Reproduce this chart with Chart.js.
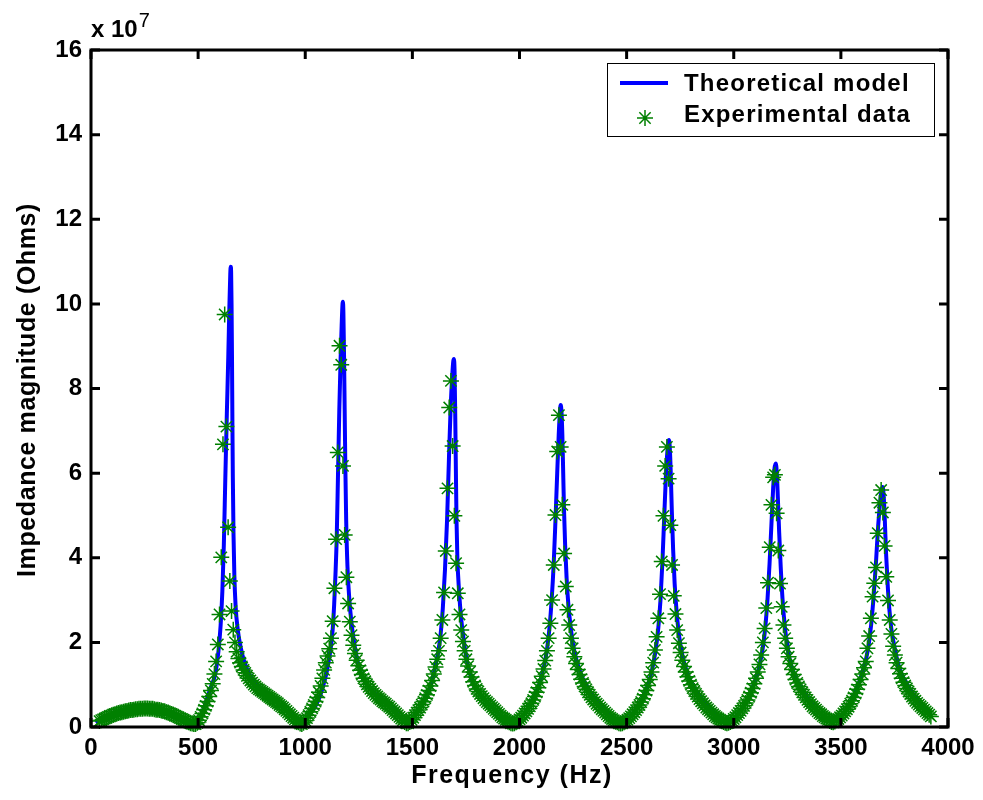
<!DOCTYPE html>
<html>
<head>
<meta charset="utf-8">
<title>Impedance magnitude</title>
<script src="https://cdn.jsdelivr.net/npm/chart.js@4.4.1/dist/chart.umd.min.js"></script>
<style>
	html, body { margin: 0; padding: 0; background: #fff; }
	#chart-place { width: 983px; height: 800px; }
</style>
</head>
<body>
<div id="chart-place"><canvas id="myChart" width="983" height="800"></canvas></div>
<script>
// values are in units of 10^7 Ohms (see the "x 10^7" label)

// theoretical model, frequency (Hz)
var theoryFreq = [
	20, 50, 100, 150, 200, 250, 300, 350, 400, 440, 470, 490,
	505, 525, 545, 560, 580, 595, 605, 613, 620, 627, 634, 641, 646, 650, 652, 654, 656, 658, 660, 662, 665, 669, 675, 685, 700, 715, 730, 750, 775, 800, 850, 900, 930, 955, 975, 985,
	995, 1020, 1050, 1070, 1085, 1100, 1110, 1120, 1128, 1135, 1141, 1147, 1153, 1159, 1165, 1170, 1174, 1176, 1178, 1181, 1184, 1187, 1191, 1197, 1206, 1215, 1225, 1240, 1256, 1280, 1318, 1360, 1396, 1420, 1442, 1462, 1476,
	1490, 1520, 1545, 1567, 1585, 1598, 1612, 1622, 1632, 1642, 1652, 1662, 1671, 1679, 1686, 1691, 1694, 1697, 1700, 1703, 1706, 1710, 1718, 1728, 1740, 1753, 1770, 1784, 1805, 1831, 1860, 1894, 1920, 1940, 1960, 1972,
	1985, 2018, 2040, 2064, 2080, 2096, 2110, 2119, 2130, 2140, 2150, 2160, 2168, 2176, 2183, 2188, 2192, 2196, 2200, 2204, 2208, 2213, 2220, 2228, 2238, 2250, 2265, 2285, 2310, 2340, 2380, 2420, 2450, 2470,
	2485, 2510, 2540, 2570, 2600, 2620, 2635, 2648, 2658, 2667, 2675, 2683, 2690, 2695, 2698, 2702, 2706, 2711, 2717, 2724, 2733, 2745, 2760, 2780, 2805, 2840, 2880, 2920, 2950, 2968,
	2985, 3010, 3040, 3070, 3100, 3120, 3135, 3148, 3158, 3167, 3176, 3184, 3190, 3196, 3201, 3206, 3212, 3219, 3228, 3240, 3250, 3262, 3278, 3294, 3315, 3340, 3365, 3387, 3410, 3434, 3452, 3465,
	3480, 3511, 3535, 3558, 3575, 3589, 3605, 3618, 3630, 3642, 3653, 3664, 3674, 3683, 3690, 3695, 3700, 3705, 3711, 3718, 3726, 3736, 3748, 3760, 3776, 3790, 3807, 3830, 3854, 3880, 3901, 3920
];
// theoretical model, |Z| (x 10^7 Ohms)
var theoryImp = [
	0.12, 0.2, 0.3, 0.37, 0.42, 0.45, 0.44, 0.39, 0.3, 0.2, 0.12, 0.07,
	0.15, 0.42, 0.72, 0.95, 1.25, 1.8, 2.4, 3.2, 4.3, 5.9, 7.4, 8.8, 9.95, 10.7, 10.88, 10.75, 10.0, 8.8, 7.2, 5.9, 4.6, 3.6, 2.85, 2.3, 1.85, 1.55, 1.35, 1.15, 1.0, 0.9, 0.66, 0.45, 0.32, 0.2, 0.1, 0.08,
	0.12, 0.3, 0.52, 0.75, 1.0, 1.3, 1.58, 1.9, 2.3, 2.9, 3.6, 4.5, 6.0, 7.5, 8.7, 9.5, 10.0, 10.05, 9.8, 8.8, 7.5, 6.2, 4.9, 3.8, 3.0, 2.5, 2.1, 1.65, 1.33, 1.05, 0.83, 0.66, 0.52, 0.38, 0.24, 0.14, 0.1,
	0.14, 0.36, 0.55, 0.76, 0.98, 1.23, 1.55, 1.82, 2.2, 2.8, 3.7, 4.9, 6.4, 7.6, 8.3, 8.65, 8.7, 8.4, 7.4, 6.1, 4.9, 4.0, 3.2, 2.55, 2.05, 1.6, 1.25, 1.02, 0.85, 0.68, 0.53, 0.36, 0.24, 0.16, 0.1, 0.08,
	0.12, 0.28, 0.45, 0.68, 0.86, 1.07, 1.35, 1.54, 1.9, 2.35, 3.0, 3.9, 4.9, 6.0, 6.9, 7.4, 7.61, 7.45, 6.9, 6.0, 5.1, 4.3, 3.5, 2.9, 2.4, 1.95, 1.6, 1.28, 1.0, 0.76, 0.5, 0.28, 0.14, 0.08,
	0.12, 0.22, 0.4, 0.65, 1.0, 1.38, 1.8, 2.35, 3.0, 3.9, 4.9, 5.9, 6.5, 6.75, 6.78, 6.55, 6.0, 5.1, 4.2, 3.4, 2.75, 2.15, 1.7, 1.32, 1.02, 0.74, 0.5, 0.3, 0.16, 0.1,
	0.13, 0.25, 0.45, 0.72, 1.1, 1.45, 1.85, 2.4, 3.05, 3.85, 4.8, 5.65, 6.1, 6.23, 6.0, 5.4, 4.6, 3.8, 3.0, 2.3, 1.95, 1.58, 1.3, 1.11, 0.92, 0.72, 0.55, 0.4, 0.29, 0.2, 0.16, 0.15,
	0.18, 0.32, 0.5, 0.72, 0.92, 1.11, 1.38, 1.62, 1.95, 2.45, 3.1, 3.9, 4.75, 5.3, 5.6, 5.67, 5.45, 4.9, 4.1, 3.4, 2.8, 2.3, 1.95, 1.65, 1.35, 1.18, 1.03, 0.84, 0.66, 0.5, 0.4, 0.28
];

// experimental data, frequency (Hz), one row per 80 Hz
var expFreq = [
	40, 48, 56, 64, 72, 80, 88, 96, 104, 112,
	120, 128, 136, 144, 152, 160, 168, 176, 184, 192,
	200, 208, 216, 224, 232, 240, 248, 256, 264, 272,
	280, 288, 296, 304, 312, 320, 328, 336, 344, 352,
	360, 368, 376, 384, 392, 400, 408, 416, 424, 432,
	440, 448, 456, 464, 472, 480, 488, 496, 504, 512,
	520, 528, 536, 544, 552, 560, 568, 576, 584, 592,
	600, 608, 616, 624, 632, 640, 648, 656, 664, 672,
	680, 688, 696, 704, 712, 720, 728, 736, 744, 752,
	760, 768, 776, 784, 792, 800, 808, 816, 824, 832,
	840, 848, 856, 864, 872, 880, 888, 896, 904, 912,
	920, 928, 936, 944, 952, 960, 968, 976, 984, 992,
	1000, 1008, 1016, 1024, 1032, 1040, 1048, 1056, 1064, 1072,
	1080, 1088, 1096, 1104, 1112, 1120, 1128, 1136, 1144, 1152,
	1160, 1168, 1176, 1184, 1192, 1200, 1208, 1216, 1224, 1232,
	1240, 1248, 1256, 1264, 1272, 1280, 1288, 1296, 1304, 1312,
	1320, 1328, 1336, 1344, 1352, 1360, 1368, 1376, 1384, 1392,
	1400, 1408, 1416, 1424, 1432, 1440, 1448, 1456, 1464, 1472,
	1480, 1488, 1496, 1504, 1512, 1520, 1528, 1536, 1544, 1552,
	1560, 1568, 1576, 1584, 1592, 1600, 1608, 1616, 1624, 1632,
	1640, 1648, 1656, 1664, 1672, 1680, 1688, 1696, 1704, 1712,
	1720, 1728, 1736, 1744, 1752, 1760, 1768, 1776, 1784, 1792,
	1800, 1808, 1816, 1824, 1832, 1840, 1848, 1856, 1864, 1872,
	1880, 1888, 1896, 1904, 1912, 1920, 1928, 1936, 1944, 1952,
	1960, 1968, 1976, 1984, 1992, 2000, 2008, 2016, 2024, 2032,
	2040, 2048, 2056, 2064, 2072, 2080, 2088, 2096, 2104, 2112,
	2120, 2128, 2136, 2144, 2152, 2160, 2168, 2176, 2184, 2192,
	2200, 2208, 2216, 2224, 2232, 2240, 2248, 2256, 2264, 2272,
	2280, 2288, 2296, 2304, 2312, 2320, 2328, 2336, 2344, 2352,
	2360, 2368, 2376, 2384, 2392, 2400, 2408, 2416, 2424, 2432,
	2440, 2448, 2456, 2464, 2472, 2480, 2488, 2496, 2504, 2512,
	2520, 2528, 2536, 2544, 2552, 2560, 2568, 2576, 2584, 2592,
	2600, 2608, 2616, 2624, 2632, 2640, 2648, 2656, 2664, 2672,
	2680, 2688, 2696, 2704, 2712, 2720, 2728, 2736, 2744, 2752,
	2760, 2768, 2776, 2784, 2792, 2800, 2808, 2816, 2824, 2832,
	2840, 2848, 2856, 2864, 2872, 2880, 2888, 2896, 2904, 2912,
	2920, 2928, 2936, 2944, 2952, 2960, 2968, 2976, 2984, 2992,
	3000, 3008, 3016, 3024, 3032, 3040, 3048, 3056, 3064, 3072,
	3080, 3088, 3096, 3104, 3112, 3120, 3128, 3136, 3144, 3152,
	3160, 3168, 3176, 3184, 3192, 3200, 3208, 3216, 3224, 3232,
	3240, 3248, 3256, 3264, 3272, 3280, 3288, 3296, 3304, 3312,
	3320, 3328, 3336, 3344, 3352, 3360, 3368, 3376, 3384, 3392,
	3400, 3408, 3416, 3424, 3432, 3440, 3448, 3456, 3464, 3472,
	3480, 3488, 3496, 3504, 3512, 3520, 3528, 3536, 3544, 3552,
	3560, 3568, 3576, 3584, 3592, 3600, 3608, 3616, 3624, 3632,
	3640, 3648, 3656, 3664, 3672, 3680, 3688, 3696, 3704, 3712,
	3720, 3728, 3736, 3744, 3752, 3760, 3768, 3776, 3784, 3792,
	3800, 3808, 3816, 3824, 3832, 3840, 3848, 3856, 3864, 3872,
	3880, 3888, 3896, 3904, 3912, 3920
];
// experimental data, |Z| (x 10^7 Ohms), same rows as expFreq
var expImp = [
	0.14, 0.16, 0.18, 0.2, 0.22, 0.24, 0.26, 0.27, 0.29, 0.3,
	0.32, 0.33, 0.34, 0.35, 0.36, 0.37, 0.38, 0.39, 0.4, 0.4,
	0.41, 0.42, 0.42, 0.43, 0.43, 0.43, 0.44, 0.44, 0.44, 0.43,
	0.43, 0.43, 0.42, 0.41, 0.41, 0.4, 0.39, 0.38, 0.37, 0.35,
	0.34, 0.32, 0.31, 0.29, 0.27, 0.25, 0.23, 0.21, 0.19, 0.17,
	0.15, 0.13, 0.11, 0.09, 0.08, 0.07, 0.07, 0.1, 0.16, 0.24,
	0.32, 0.41, 0.5, 0.6, 0.72, 0.86, 1.02, 1.25, 1.55, 1.95,
	2.66, 4.01, 6.68, 9.75, 7.1, 4.72, 3.45, 2.74, 2.3, 2.0,
	1.78, 1.62, 1.52, 1.43, 1.35, 1.28, 1.21, 1.15, 1.1, 1.05,
	1.0, 0.96, 0.92, 0.89, 0.86, 0.83, 0.8, 0.77, 0.74, 0.71,
	0.68, 0.65, 0.62, 0.59, 0.56, 0.52, 0.49, 0.46, 0.42, 0.38,
	0.34, 0.3, 0.26, 0.22, 0.18, 0.14, 0.11, 0.08, 0.07, 0.1,
	0.15, 0.21, 0.28, 0.36, 0.44, 0.52, 0.6, 0.7, 0.82, 0.97,
	1.15, 1.35, 1.52, 1.68, 1.85, 2.1, 2.5, 3.28, 4.44, 6.49,
	9.01, 8.56, 6.17, 4.54, 3.54, 2.92, 2.49, 2.17, 1.93, 1.74,
	1.58, 1.45, 1.34, 1.24, 1.15, 1.08, 1.01, 0.95, 0.9, 0.85,
	0.8, 0.76, 0.72, 0.68, 0.65, 0.61, 0.58, 0.55, 0.51, 0.48,
	0.44, 0.4, 0.36, 0.32, 0.28, 0.24, 0.2, 0.16, 0.12, 0.09,
	0.09, 0.12, 0.17, 0.22, 0.28, 0.34, 0.4, 0.46, 0.53, 0.6,
	0.68, 0.76, 0.86, 0.97, 1.1, 1.25, 1.42, 1.6, 1.8, 2.1,
	2.53, 3.18, 4.16, 5.64, 7.55, 8.18, 6.64, 4.99, 3.87, 3.16,
	2.66, 2.29, 2.02, 1.8, 1.6, 1.44, 1.3, 1.18, 1.07, 0.98,
	0.9, 0.84, 0.78, 0.73, 0.68, 0.63, 0.59, 0.55, 0.51, 0.47,
	0.43, 0.39, 0.35, 0.31, 0.27, 0.23, 0.2, 0.17, 0.14, 0.11,
	0.09, 0.08, 0.09, 0.11, 0.14, 0.18, 0.22, 0.27, 0.32, 0.37,
	0.43, 0.49, 0.56, 0.64, 0.72, 0.82, 0.93, 1.05, 1.2, 1.37,
	1.57, 1.8, 2.1, 2.45, 3.0, 3.83, 5.01, 6.51, 7.37, 6.62,
	5.25, 4.1, 3.32, 2.77, 2.41, 2.1, 1.86, 1.66, 1.5, 1.36,
	1.24, 1.13, 1.04, 0.96, 0.89, 0.82, 0.76, 0.7, 0.65, 0.6,
	0.55, 0.51, 0.46, 0.42, 0.38, 0.34, 0.3, 0.26, 0.22, 0.19,
	0.16, 0.13, 0.11, 0.09, 0.08, 0.09, 0.11, 0.14, 0.17, 0.21,
	0.25, 0.3, 0.35, 0.4, 0.46, 0.52, 0.59, 0.67, 0.76, 0.86,
	0.98, 1.12, 1.3, 1.52, 1.82, 2.13, 2.57, 3.14, 3.91, 4.99,
	6.17, 6.62, 5.87, 4.77, 3.83, 3.1, 2.67, 2.29, 1.98, 1.76,
	1.58, 1.43, 1.3, 1.19, 1.09, 1.0, 0.92, 0.85, 0.78, 0.72,
	0.66, 0.61, 0.56, 0.51, 0.46, 0.42, 0.38, 0.34, 0.3, 0.26,
	0.23, 0.2, 0.17, 0.14, 0.12, 0.1, 0.09, 0.1, 0.12, 0.15,
	0.19, 0.23, 0.28, 0.33, 0.38, 0.44, 0.5, 0.57, 0.64, 0.72,
	0.81, 0.91, 1.02, 1.15, 1.3, 1.48, 1.7, 2.0, 2.33, 2.81,
	3.41, 4.25, 5.25, 5.9, 5.96, 5.05, 4.17, 3.39, 2.84, 2.41,
	2.1, 1.86, 1.66, 1.5, 1.36, 1.24, 1.12, 1.04, 0.96, 0.89,
	0.82, 0.76, 0.7, 0.64, 0.59, 0.54, 0.49, 0.45, 0.41, 0.37,
	0.33, 0.3, 0.26, 0.23, 0.2, 0.17, 0.14, 0.12, 0.11, 0.13,
	0.16, 0.19, 0.23, 0.27, 0.32, 0.37, 0.42, 0.48, 0.55, 0.62,
	0.7, 0.79, 0.89, 1.0, 1.12, 1.25, 1.4, 1.55, 1.86, 2.15,
	2.57, 3.08, 3.4, 3.77, 4.58, 5.3, 5.6, 5.07, 4.28, 3.55,
	2.99, 2.53, 2.2, 1.91, 1.7, 1.52, 1.38, 1.26, 1.15, 1.06,
	0.98, 0.91, 0.84, 0.78, 0.72, 0.67, 0.62, 0.57, 0.53, 0.49,
	0.45, 0.41, 0.37, 0.33, 0.29, 0.25
];

var legendLabels = ['Theoretical model', 'Experimental data'];
var xAxisTitle = 'Frequency (Hz)';
var yAxisTitle = 'Impedance magnitude (Ohms)';
var yExponent = '7';

var fontFamily = '"Liberation Sans", Arial, Helvetica, sans-serif';
var lineBlue = '#0000ff';
var starGreen = '#008000';

function toPoints(xs, ys) {
	var pts = [];
	for (var i = 0; i < xs.length; i++) {
		pts.push({x: xs[i], y: ys[i]});
	}
	return pts;
}

// matlab-like star marker (plus + cross)
function drawStar(ctx, cx, cy, r) {
	var d = r * Math.SQRT1_2;
	ctx.beginPath();
	ctx.moveTo(cx - r, cy); ctx.lineTo(cx + r, cy);
	ctx.moveTo(cx, cy - r); ctx.lineTo(cx, cy + r);
	ctx.moveTo(cx - d, cy - d); ctx.lineTo(cx + d, cy + d);
	ctx.moveTo(cx - d, cy + d); ctx.lineTo(cx + d, cy - d);
	ctx.stroke();
}

function spaced(ctx, px) {
	if ('letterSpacing' in ctx) ctx.letterSpacing = px;
}

// box, inward ticks, axis titles, exponent label and the legend
var matlabAxes = {
	id: 'matlabAxes',
	afterDatasetsDraw: function(chart) {
		var ctx = chart.ctx, a = chart.chartArea;
		var xs = chart.scales.x, ys = chart.scales.y;
		var tickLen = 9;

		ctx.save();
		ctx.strokeStyle = '#000';
		ctx.lineWidth = 3;
		ctx.strokeRect(a.left, a.top, a.right - a.left, a.bottom - a.top);

		ctx.beginPath();
		xs.ticks.forEach(function(t) {
			var px = xs.getPixelForValue(t.value);
			ctx.moveTo(px, a.bottom); ctx.lineTo(px, a.bottom - tickLen);
			ctx.moveTo(px, a.top); ctx.lineTo(px, a.top + tickLen);
		});
		ys.ticks.forEach(function(t) {
			var py = ys.getPixelForValue(t.value);
			ctx.moveTo(a.left, py); ctx.lineTo(a.left + tickLen, py);
			ctx.moveTo(a.right, py); ctx.lineTo(a.right - tickLen, py);
		});
		ctx.stroke();
		ctx.restore();
	},
	afterDraw: function(chart) {
		var ctx = chart.ctx, a = chart.chartArea;

		ctx.save();
		ctx.fillStyle = '#000';

		// axis titles
		ctx.font = 'bold 25px ' + fontFamily;
		ctx.textAlign = 'center';
		ctx.textBaseline = 'middle';
		spaced(ctx, '1.5px');
		ctx.fillText(xAxisTitle, a.left + 421, a.bottom + 49);
		ctx.save();
		ctx.translate(28, a.top + 340);
		ctx.rotate(-Math.PI / 2);
		spaced(ctx, '0.6px');
		ctx.fillText(yAxisTitle, 0, 0);
		ctx.restore();
		spaced(ctx, '0px');

		// "x 10^7" above the y axis
		ctx.textBaseline = 'alphabetic';
		ctx.textAlign = 'left';
		ctx.font = 'bold 24px ' + fontFamily;
		ctx.fillText('x 10', a.left, a.top - 13);
		var w = ctx.measureText('x 10').width;
		ctx.font = '20px ' + fontFamily;
		ctx.fillText(yExponent, a.left + w + 1, a.top - 23);

		// legend box in the upper right corner
		var bx = a.right - 341, by = a.top + 13, bw = 327, bh = 73;
		ctx.fillStyle = '#fff';
		ctx.fillRect(bx, by, bw, bh);
		ctx.strokeStyle = '#000';
		ctx.lineWidth = 1;
		ctx.strokeRect(bx + 0.5, by + 0.5, bw, bh);

		ctx.strokeStyle = lineBlue;
		ctx.lineWidth = 4;
		ctx.beginPath();
		ctx.moveTo(bx + 13, by + 20);
		ctx.lineTo(bx + 61, by + 20);
		ctx.stroke();

		ctx.strokeStyle = starGreen;
		ctx.lineWidth = 1.5;
		drawStar(ctx, bx + 38, by + 55, 8);

		ctx.fillStyle = '#000';
		ctx.font = 'bold 24px ' + fontFamily;
		spaced(ctx, '1.2px');
		ctx.fillText(legendLabels[0], bx + 77, by + 28);
		ctx.fillText(legendLabels[1], bx + 77, by + 59);
		ctx.restore();
	}
};

var tickFont = {family: fontFamily, size: 24, weight: 'bold'};

var ctx = document.getElementById('myChart').getContext('2d');
var chart = new Chart(ctx, {
	type: 'scatter',
	data: {
		datasets: [
			{
				label: legendLabels[1],
				data: toPoints(expFreq, expImp),
				showLine: false,
				pointStyle: 'star',
				pointRadius: 8,
				pointBorderWidth: 1.5,
				pointBorderColor: starGreen,
				pointBackgroundColor: starGreen,
				clip: false
			},
			{
				label: legendLabels[0],
				data: toPoints(theoryFreq, theoryImp),
				showLine: true,
				borderColor: lineBlue,
				borderWidth: 4,
				pointRadius: 0,
				cubicInterpolationMode: 'monotone',
				fill: false
			}
		]
	},
	options: {
		responsive: false,
		animation: false,
		devicePixelRatio: 1,
		layout: {padding: {top: 50, right: 35, left: 0, bottom: 0}},
		plugins: {
			legend: {display: false},
			tooltip: {enabled: false}
		},
		scales: {
			x: {
				type: 'linear',
				min: 0,
				max: 4000,
				grid: {display: false, drawTicks: false},
				border: {display: false},
				ticks: {
					stepSize: 500, color: '#000', font: tickFont, padding: 7, maxRotation: 0, autoSkip: false,
					callback: function(v) { return String(v); }
				},
				afterFit: function(s) { s.height = 73; }
			},
			y: {
				type: 'linear',
				min: 0,
				max: 16,
				grid: {display: false, drawTicks: false},
				border: {display: false},
				ticks: {
					stepSize: 2, color: '#000', font: tickFont, padding: 9,
					callback: function(v) { return String(v); }
				},
				afterFit: function(s) { s.width = 91; }
			}
		}
	},
	plugins: [matlabAxes]
});
</script>
</body>
</html>
